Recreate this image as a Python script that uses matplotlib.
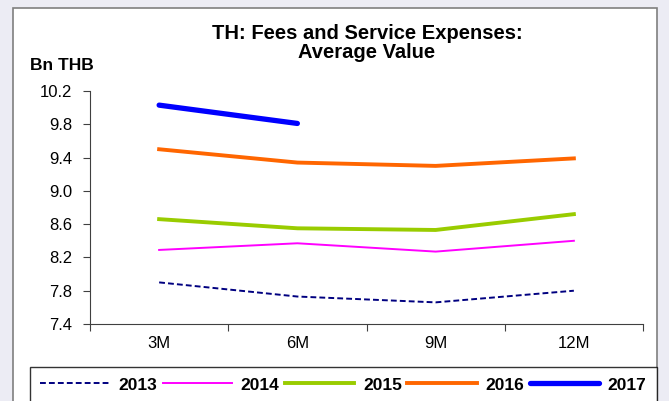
import matplotlib.pyplot as plt
from matplotlib.patches import Rectangle

plt.rcParams['font.family'] = ['Liberation Sans', 'DejaVu Sans']

periods = ['3M', '6M', '9M', '12M']
y2013 = [7.90, 7.73, 7.66, 7.80]
y2014 = [8.29, 8.37, 8.27, 8.40]
y2015 = [8.66, 8.55, 8.53, 8.72]
y2016 = [9.50, 9.34, 9.30, 9.39]
y2017 = [10.03, 9.81]
yticks = [7.4, 7.8, 8.2, 8.6, 9.0, 9.4, 9.8, 10.2]

fig = plt.figure(figsize=(6.69, 4.01), dpi=100, facecolor='#ececf4')
# white chart area with grey frame
fig.patches.append(Rectangle((13 / 669, -0.05), 644 / 669, 1.05 - 8 / 401,
                             transform=fig.transFigure, facecolor='white',
                             edgecolor='#7f7f7f', linewidth=1.2, zorder=-5))

ax = fig.add_axes([90 / 669, 1 - 324 / 401, 553 / 669, 233 / 401])
ax.patch.set_alpha(0)
x = list(range(len(periods)))
ax.plot(x, y2013, color='#000080', lw=1.4, ls=(0, (3, 1.6)), label='2013')
ax.plot(x, y2014, color='#ff00ff', lw=1.4, label='2014')
ax.plot(x, y2015, color='#99cc00', lw=2.8, label='2015')
ax.plot(x, y2016, color='#ff6600', lw=2.8, label='2016')
ax.plot(x[:2], y2017, color='#0000ff', lw=3.8, label='2017', solid_capstyle='round')

ax.set_xlim(-0.5, 3.5)
ax.set_ylim(7.4, 10.2)
ax.set_yticks(yticks)
ax.set_yticklabels([f'{v:.1f}' for v in yticks], fontsize=12)
ax.set_xticks([-0.5, 0.5, 1.5, 2.5, 3.5])
ax.set_xticklabels([])
ax.set_xticks(x, minor=True)
ax.set_xticklabels(periods, minor=True, fontsize=12)
ax.tick_params(axis='x', which='minor', length=0, pad=9)
ax.tick_params(axis='x', which='major', length=5, color='#404040')
ax.tick_params(axis='y', length=5, color='#404040', pad=8)
ax.spines['top'].set_visible(False)
ax.spines['right'].set_visible(False)
ax.spines['left'].set_color('#404040')
ax.spines['bottom'].set_color('#404040')

fig.text(367 / 669, 1 - 43 / 401, 'TH: Fees and Service Expenses:\nAverage Value',
         ha='center', va='center', fontsize=14.5, fontweight='bold', linespacing=1.05)
fig.text(30 / 669, 1 - 66 / 401, 'Bn THB', ha='left', va='center',
         fontsize=12.5, fontweight='bold')

leg = fig.legend(loc='upper left',
                 bbox_to_anchor=(30 / 669, 1 - 367 / 401 - 0.1, 627 / 669, 0.1),
                 ncol=5, mode='expand', frameon=True, fancybox=False,
                 prop={'weight': 'bold', 'size': 12.5}, handlelength=4.0,
                 borderaxespad=0, columnspacing=0.8, handletextpad=0.5,
                 borderpad=0.6)
leg.get_frame().set_edgecolor('black')
leg.get_frame().set_linewidth(1.0)

fig.savefig('out.png', dpi=100, facecolor=fig.get_facecolor())
